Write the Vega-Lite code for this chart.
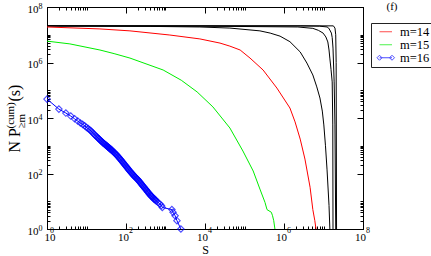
{
  "$schema": "https://vega.github.io/schema/vega-lite/v6.json",
  "width": 316,
  "height": 222,
  "autosize": {"type": "none"},
  "padding": {"left": 47, "top": 7, "right": 68, "bottom": 27},
  "background": "white",
  "title": {"text": "(f)", "anchor": "end", "align": "center", "baseline": "alphabetic", "dx": 29, "dy": 19, "offset": 0, "frame": "group", "font": "Liberation Serif", "fontSize": 11, "fontWeight": "normal", "color": "black"},
  "config": {
    "view": {"stroke": null},
    "axis": {"grid": false, "labelFlush": false, "labelOverlap": false, "tickColor": "black", "domainColor": "black", "labelColor": "black", "titleColor": "black", "labelFont": "Liberation Serif", "titleFont": "Liberation Serif", "titleFontWeight": "normal", "tickWidth": 1, "domainWidth": 1}
  },
  "datasets": {
    "black": [
      {"m": "m=13", "s": 1, "n": 20900000}, {"m": "m=13", "s": 407, "n": 20000000}, {"m": "m=13", "s": 7413, "n": 19050000}, {"m": "m=13", "s": 42660, "n": 17400000}, {"m": "m=13", "s": 245500, "n": 13800000}, {"m": "m=13", "s": 446700, "n": 11480000}, {"m": "m=13", "s": 794300, "n": 8910000}, {"m": "m=13", "s": 1413000, "n": 5620000}, {"m": "m=13", "s": 2570000, "n": 2400000}, {"m": "m=13", "s": 3800000, "n": 955000}, {"m": "m=13", "s": 5370000, "n": 355000}, {"m": "m=13", "s": 6760000, "n": 132000}, {"m": "m=13", "s": 8130000, "n": 52500}, {"m": "m=13", "s": 9330000, "n": 17780}, {"m": "m=13", "s": 10200000, "n": 5623}, {"m": "m=13", "s": 11220000, "n": 1000}, {"m": "m=13", "s": 12300000, "n": 135}, {"m": "m=13", "s": 13800000, "n": 7}, {"m": "m=13", "s": 14500000, "n": 1},
      {"m": "m=12", "s": 1, "n": 20900000}, {"m": "m=12", "s": 10000, "n": 20400000}, {"m": "m=12", "s": 2240000, "n": 19050000}, {"m": "m=12", "s": 5370000, "n": 17000000}, {"m": "m=12", "s": 7410000, "n": 14450000}, {"m": "m=12", "s": 9770000, "n": 11480000}, {"m": "m=12", "s": 11480000, "n": 8320000}, {"m": "m=12", "s": 12880000, "n": 5500000}, {"m": "m=12", "s": 13800000, "n": 2820000}, {"m": "m=12", "s": 14450000, "n": 1445000}, {"m": "m=12", "s": 15500000, "n": 562000}, {"m": "m=12", "s": 16600000, "n": 200000}, {"m": "m=12", "s": 17180000, "n": 5623}, {"m": "m=12", "s": 17400000, "n": 1},
      {"m": "m=11", "s": 1, "n": 20900000}, {"m": "m=11", "s": 2570000, "n": 20900000}, {"m": "m=11", "s": 7940000, "n": 20400000}, {"m": "m=11", "s": 12300000, "n": 19050000}, {"m": "m=11", "s": 13500000, "n": 17400000}, {"m": "m=11", "s": 14450000, "n": 14800000}, {"m": "m=11", "s": 15850000, "n": 11480000}, {"m": "m=11", "s": 16600000, "n": 7940000}, {"m": "m=11", "s": 17400000, "n": 3310000}, {"m": "m=11", "s": 18600000, "n": 200000}, {"m": "m=11", "s": 19500000, "n": 5623}, {"m": "m=11", "s": 20400000, "n": 1},
      {"m": "m=10", "s": 1, "n": 20900000}, {"m": "m=10", "s": 17800000, "n": 20900000}, {"m": "m=10", "s": 19500000, "n": 17400000}, {"m": "m=10", "s": 20400000, "n": 10000000}, {"m": "m=10", "s": 20900000, "n": 1000000}, {"m": "m=10", "s": 21400000, "n": 1}
    ],
    "redgreen": [
      {"m": "m=14", "s": 1, "n": 19050000}, {"m": "m=14", "s": 21.9, "n": 16200000}, {"m": "m=14", "s": 126, "n": 13800000}, {"m": "m=14", "s": 1288, "n": 9770000}, {"m": "m=14", "s": 7413, "n": 7080000}, {"m": "m=14", "s": 23990, "n": 5010000}, {"m": "m=14", "s": 42660, "n": 3890000}, {"m": "m=14", "s": 77620, "n": 2820000}, {"m": "m=14", "s": 138000, "n": 1445000}, {"m": "m=14", "s": 295100, "n": 537000}, {"m": "m=14", "s": 660700, "n": 120000}, {"m": "m=14", "s": 1413000, "n": 22910}, {"m": "m=14", "s": 1905000, "n": 7244}, {"m": "m=14", "s": 2570000, "n": 1738}, {"m": "m=14", "s": 3390000, "n": 331}, {"m": "m=14", "s": 4570000, "n": 32}, {"m": "m=14", "s": 5370000, "n": 5}, {"m": "m=14", "s": 6030000, "n": 2}, {"m": "m=14", "s": 6460000, "n": 1},
      {"m": "m=15", "s": 1, "n": 5890000}, {"m": "m=15", "s": 3.8, "n": 4680000}, {"m": "m=15", "s": 21.9, "n": 2820000}, {"m": "m=15", "s": 50, "n": 2090000}, {"m": "m=15", "s": 126, "n": 1445000}, {"m": "m=15", "s": 871, "n": 537000}, {"m": "m=15", "s": 2512, "n": 229000}, {"m": "m=15", "s": 6310, "n": 87100}, {"m": "m=15", "s": 15850, "n": 25120}, {"m": "m=15", "s": 42660, "n": 4365}, {"m": "m=15", "s": 91200, "n": 646}, {"m": "m=15", "s": 166000, "n": 123}, {"m": "m=15", "s": 245500, "n": 27.5}, {"m": "m=15", "s": 331100, "n": 9}, {"m": "m=15", "s": 371500, "n": 5}, {"m": "m=15", "s": 478600, "n": 4}, {"m": "m=15", "s": 512900, "n": 3}, {"m": "m=15", "s": 549500, "n": 2}, {"m": "m=15", "s": 588800, "n": 1}
    ],
    "blue": [
      {"m": "m=16", "s": 1, "n": 47900}, {"m": "m=16", "s": 2, "n": 20900}, {"m": "m=16", "s": 3, "n": 15100}, {"m": "m=16", "s": 4, "n": 11750}, {"m": "m=16", "s": 5, "n": 9330}, {"m": "m=16", "s": 6, "n": 7760}, {"m": "m=16", "s": 7, "n": 6610}, {"m": "m=16", "s": 8, "n": 5890}, {"m": "m=16", "s": 9, "n": 5250}, {"m": "m=16", "s": 10, "n": 4570},
      {"m": "m=16", "s": 11, "n": 4170}, {"m": "m=16", "s": 12, "n": 3800}, {"m": "m=16", "s": 13, "n": 3430}, {"m": "m=16", "s": 14, "n": 3090}, {"m": "m=16", "s": 15, "n": 2750}, {"m": "m=16", "s": 16, "n": 2510}, {"m": "m=16", "s": 17, "n": 2290}, {"m": "m=16", "s": 18, "n": 2140}, {"m": "m=16", "s": 19, "n": 1970}, {"m": "m=16", "s": 20, "n": 1840},
      {"m": "m=16", "s": 21, "n": 1734}, {"m": "m=16", "s": 22, "n": 1625}, {"m": "m=16", "s": 23, "n": 1524}, {"m": "m=16", "s": 24, "n": 1440}, {"m": "m=16", "s": 25, "n": 1358}, {"m": "m=16", "s": 26, "n": 1294}, {"m": "m=16", "s": 27, "n": 1239}, {"m": "m=16", "s": 28, "n": 1186}, {"m": "m=16", "s": 29, "n": 1138}, {"m": "m=16", "s": 30, "n": 1091},
      {"m": "m=16", "s": 31, "n": 1050}, {"m": "m=16", "s": 32, "n": 1009}, {"m": "m=16", "s": 33, "n": 971}, {"m": "m=16", "s": 34, "n": 940}, {"m": "m=16", "s": 35, "n": 906}, {"m": "m=16", "s": 36, "n": 877}, {"m": "m=16", "s": 37, "n": 848}, {"m": "m=16", "s": 38, "n": 820}, {"m": "m=16", "s": 39, "n": 796}, {"m": "m=16", "s": 40, "n": 771},
      {"m": "m=16", "s": 41, "n": 747}, {"m": "m=16", "s": 42, "n": 724}, {"m": "m=16", "s": 43, "n": 703}, {"m": "m=16", "s": 44, "n": 683}, {"m": "m=16", "s": 45, "n": 662}, {"m": "m=16", "s": 47, "n": 625}, {"m": "m=16", "s": 49, "n": 593}, {"m": "m=16", "s": 51, "n": 560}, {"m": "m=16", "s": 53, "n": 530}, {"m": "m=16", "s": 55, "n": 501},
      {"m": "m=16", "s": 57, "n": 474}, {"m": "m=16", "s": 59, "n": 451}, {"m": "m=16", "s": 62, "n": 419}, {"m": "m=16", "s": 64, "n": 398}, {"m": "m=16", "s": 67, "n": 368}, {"m": "m=16", "s": 69, "n": 350}, {"m": "m=16", "s": 72, "n": 326}, {"m": "m=16", "s": 75, "n": 304}, {"m": "m=16", "s": 78, "n": 284}, {"m": "m=16", "s": 81, "n": 267},
      {"m": "m=16", "s": 84, "n": 249}, {"m": "m=16", "s": 87, "n": 233}, {"m": "m=16", "s": 91, "n": 216}, {"m": "m=16", "s": 94, "n": 204}, {"m": "m=16", "s": 98, "n": 189}, {"m": "m=16", "s": 102, "n": 175}, {"m": "m=16", "s": 106, "n": 164}, {"m": "m=16", "s": 110, "n": 153}, {"m": "m=16", "s": 114, "n": 144}, {"m": "m=16", "s": 118, "n": 135},
      {"m": "m=16", "s": 123, "n": 125}, {"m": "m=16", "s": 128, "n": 117}, {"m": "m=16", "s": 133, "n": 110}, {"m": "m=16", "s": 138, "n": 104}, {"m": "m=16", "s": 143, "n": 98}, {"m": "m=16", "s": 148, "n": 93}, {"m": "m=16", "s": 154, "n": 87}, {"m": "m=16", "s": 160, "n": 82}, {"m": "m=16", "s": 166, "n": 78}, {"m": "m=16", "s": 172, "n": 74},
      {"m": "m=16", "s": 179, "n": 70}, {"m": "m=16", "s": 186, "n": 66}, {"m": "m=16", "s": 193, "n": 63}, {"m": "m=16", "s": 200, "n": 60}, {"m": "m=16", "s": 208, "n": 56}, {"m": "m=16", "s": 216, "n": 52}, {"m": "m=16", "s": 224, "n": 49}, {"m": "m=16", "s": 232, "n": 46}, {"m": "m=16", "s": 241, "n": 43}, {"m": "m=16", "s": 250, "n": 40},
      {"m": "m=16", "s": 260, "n": 38}, {"m": "m=16", "s": 270, "n": 35}, {"m": "m=16", "s": 280, "n": 33}, {"m": "m=16", "s": 290, "n": 31}, {"m": "m=16", "s": 302, "n": 29}, {"m": "m=16", "s": 313, "n": 27}, {"m": "m=16", "s": 325, "n": 26}, {"m": "m=16", "s": 337, "n": 24}, {"m": "m=16", "s": 350, "n": 22}, {"m": "m=16", "s": 363, "n": 21},
      {"m": "m=16", "s": 377, "n": 20}, {"m": "m=16", "s": 391, "n": 18}, {"m": "m=16", "s": 406, "n": 17}, {"m": "m=16", "s": 421, "n": 16}, {"m": "m=16", "s": 437, "n": 15}, {"m": "m=16", "s": 454, "n": 15}, {"m": "m=16", "s": 471, "n": 14}, {"m": "m=16", "s": 489, "n": 13}, {"m": "m=16", "s": 507, "n": 12}, {"m": "m=16", "s": 526, "n": 12},
      {"m": "m=16", "s": 546, "n": 11}, {"m": "m=16", "s": 567, "n": 11}, {"m": "m=16", "s": 588, "n": 10}, {"m": "m=16", "s": 650, "n": 9}, {"m": "m=16", "s": 720, "n": 8}, {"m": "m=16", "s": 790, "n": 7}, {"m": "m=16", "s": 830, "n": 6}, {"m": "m=16", "s": 1450, "n": 5}, {"m": "m=16", "s": 1550, "n": 4},
      {"m": "m=16", "s": 1750, "n": 3}, {"m": "m=16", "s": 1950, "n": 2}, {"m": "m=16", "s": 2450, "n": 1}
    ]
  },
  "resolve": {"axis": {"x": "independent", "y": "independent"}},
  "layer": [
    {
      "data": {"name": "black"},
      "mark": {"type": "line", "color": "black", "strokeWidth": 1, "clip": true},
      "encoding": {
        "x": {"field": "s", "type": "quantitative", "scale": {"type": "log", "domain": [1, 100000000], "nice": false},
          "axis": {"orient": "bottom", "values": [1, 100, 10000, 1000000, 100000000], "tickSize": -6, "domain": true, "labelExpr": "'10'", "labelAlign": {"condition": {"test": "datum.value == 1", "value": "center"}, "value": "right"}, "labelBaseline": "alphabetic", "labelOffset": 2.5, "labelPadding": 17, "labelFontSize": 11,
            "title": "S", "titleFontSize": 12, "titleX": 158, "titleY": 24, "titleAlign": "center", "titleBaseline": "alphabetic", "titleAngle": 0}},
        "y": {"field": "n", "type": "quantitative", "scale": {"type": "log", "domain": [1, 100000000], "nice": false},
          "axis": {"orient": "left", "values": [1, 100, 10000, 1000000, 100000000], "tickSize": -6, "domain": true, "labelExpr": "'10'", "labelAlign": "right", "labelBaseline": "alphabetic", "labelOffset": 5, "labelPadding": 15, "labelFontSize": 11,
            "title": "N P", "titleFontSize": 16, "titleAngle": 270, "titleAlign": "left", "titleBaseline": "alphabetic", "titleX": -28, "titleY": 145}},
        "detail": {"field": "m", "type": "nominal"}
      }
    },
    {
      "data": {"name": "redgreen"},
      "mark": {"type": "line", "strokeWidth": 1, "clip": true},
      "encoding": {
        "x": {"field": "s", "type": "quantitative", "scale": {"type": "log", "domain": [1, 100000000], "nice": false},
          "axis": {"orient": "bottom", "values": [1,2,3,4,5,6,7,8,9,10,100,200,300,400,500,600,700,800,900,1000,10000,20000,30000,40000,50000,60000,70000,80000,90000,100000,1000000,2000000,3000000,4000000,5000000,6000000,7000000,8000000,9000000,10000000,100000000], "tickSize": -3, "domain": false,
            "labelExpr": "datum.value == 1 ? '  0' : datum.value == 100 ? '2' : datum.value == 10000 ? '4' : datum.value == 1000000 ? '6' : datum.value == 100000000 ? '8' : ''", "labelAlign": "left", "labelBaseline": "alphabetic", "labelOffset": 2.5, "labelPadding": 6, "labelFontSize": 8, "title": null}},
        "y": {"field": "n", "type": "quantitative", "scale": {"type": "log", "domain": [1, 100000000], "nice": false},
          "axis": {"orient": "left", "values": [1,2,3,4,5,6,7,8,9,10,100,200,300,400,500,600,700,800,900,1000,10000,20000,30000,40000,50000,60000,70000,80000,90000,100000,1000000,2000000,3000000,4000000,5000000,6000000,7000000,8000000,9000000,10000000,100000000], "tickSize": -3, "domain": false,
            "labelExpr": "datum.value == 1 ? '0' : datum.value == 100 ? '2' : datum.value == 10000 ? '4' : datum.value == 1000000 ? '6' : datum.value == 100000000 ? '8' : ''", "labelAlign": "left", "labelBaseline": "alphabetic", "labelOffset": 1, "labelPadding": 12, "labelFontSize": 8,
            "title": "≥m", "titleFontSize": 11, "titleAngle": 270, "titleAlign": "left", "titleBaseline": "alphabetic", "titleX": -23, "titleY": 121}},
        "color": {"field": "m", "type": "nominal", "scale": {"domain": ["m=14", "m=15", "m=16"], "range": ["#ff0000", "#00ee00", "#0000ff"]},
          "legend": {"title": null, "orient": "none", "legendX": 324, "legendY": 16, "strokeColor": "#222222", "fillColor": "white", "padding": 2.5, "symbolOffset": 6, "labelOffset": 8, "rowPadding": -1, "labelFont": "Liberation Serif", "labelFontSize": 12.5, "labelColor": "black", "symbolSize": 100, "symbolStrokeWidth": 1, "symbolFillColor": "white", "labelLimit": 0,
            "symbolType": {"expr": "datum.value === 'm=16' ? 'M-1.25,0H1.25M-1.25,-0.5L-0.75,0L-1.25,0.5L-1.75,0ZM1.25,-0.5L1.75,0L1.25,0.5L0.75,0Z' : 'M-1.25,0H1.25'"}}}
      }
    },
    {
      "data": {"name": "blue"},
      "mark": {"type": "line", "strokeWidth": 1, "clip": true},
      "encoding": {
        "x": {"field": "s", "type": "quantitative", "scale": {"type": "log", "domain": [1, 100000000], "nice": false},
          "axis": {"orient": "top", "values": [1, 100, 10000, 1000000, 100000000], "tickSize": -6, "domain": true, "labels": false, "title": null}},
        "y": {"field": "n", "type": "quantitative", "scale": {"type": "log", "domain": [1, 100000000], "nice": false},
          "axis": {"orient": "right", "values": [1, 100, 10000, 1000000, 100000000], "tickSize": -6, "domain": true, "labels": false,
            "title": "(cum)", "titleFontSize": 11, "titleAngle": 270, "titleAlign": "left", "titleBaseline": "alphabetic", "titleX": -350, "titleY": 121}},
        "color": {"field": "m", "type": "nominal", "scale": {"domain": ["m=14", "m=15", "m=16"], "range": ["#ff0000", "#00ee00", "#0000ff"]}}
      }
    },
    {
      "data": {"name": "blue"},
      "mark": {"type": "point", "shape": "diamond", "filled": false, "size": 42, "strokeWidth": 1.1},
      "encoding": {
        "x": {"field": "s", "type": "quantitative", "scale": {"type": "log", "domain": [1, 100000000], "nice": false},
          "axis": {"orient": "top", "values": [1,2,3,4,5,6,7,8,9,10,100,200,300,400,500,600,700,800,900,1000,10000,20000,30000,40000,50000,60000,70000,80000,90000,100000,1000000,2000000,3000000,4000000,5000000,6000000,7000000,8000000,9000000,10000000,100000000], "tickSize": -3, "domain": false, "labels": false, "title": null}},
        "y": {"field": "n", "type": "quantitative", "scale": {"type": "log", "domain": [1, 100000000], "nice": false},
          "axis": {"orient": "right", "values": [1,2,3,4,5,6,7,8,9,10,100,200,300,400,500,600,700,800,900,1000,10000,20000,30000,40000,50000,60000,70000,80000,90000,100000,1000000,2000000,3000000,4000000,5000000,6000000,7000000,8000000,9000000,10000000,100000000], "tickSize": -3, "domain": false, "labels": false,
            "title": "(s)", "titleFontSize": 16, "titleAngle": 270, "titleAlign": "left", "titleBaseline": "alphabetic", "titleX": -344, "titleY": 94}},
        "color": {"field": "m", "type": "nominal", "scale": {"domain": ["m=14", "m=15", "m=16"], "range": ["#ff0000", "#00ee00", "#0000ff"]}}
      }
    }
  ]
}
